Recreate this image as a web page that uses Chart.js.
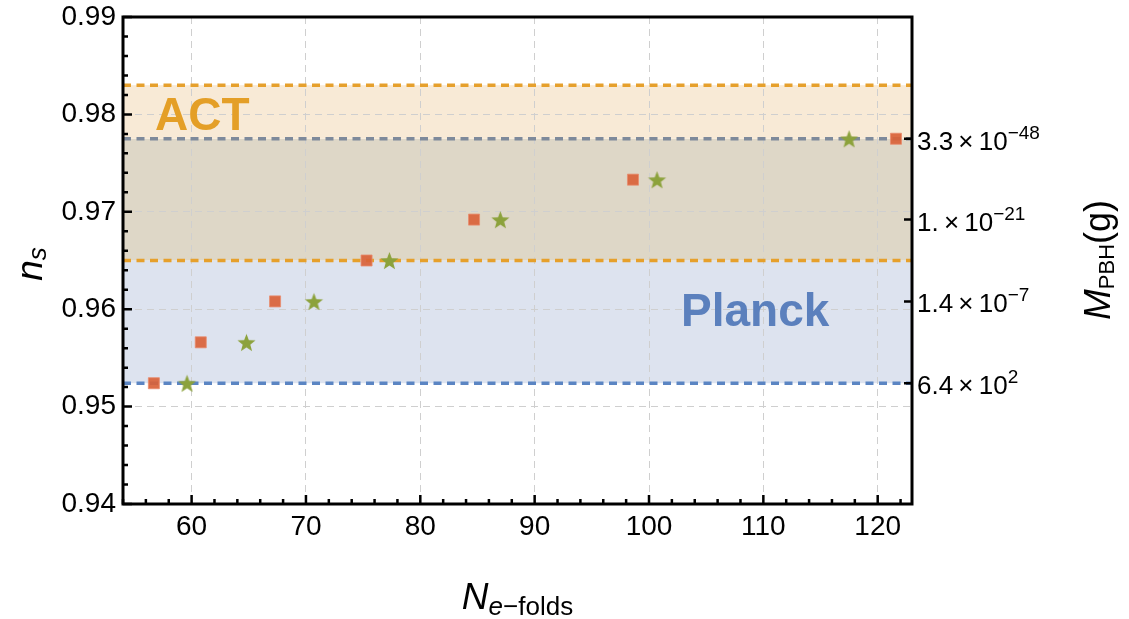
<!DOCTYPE html>
<html>
<head>
<meta charset="utf-8">
<script src="https://cdn.jsdelivr.net/npm/chart.js@4/dist/chart.umd.min.js"></script>
<style>
  html, body { margin: 0; padding: 0; background: #fff; }
  #wrap { width: 1129px; height: 619px; position: relative; }
</style>
</head>
<body>
<div id="wrap"><canvas id="chart"></canvas></div>
<script>
// data
const nefoldsSquares = [56.7, 60.8, 67.3, 75.3, 84.7, 98.6, 121.6];
const nsSquares = [0.9524, 0.9566, 0.9608, 0.9650, 0.9692, 0.9733, 0.9775];
const nefoldsStars = [59.6, 64.8, 70.7, 77.3, 87.0, 100.7, 117.5];
const nsStars = [0.9524, 0.9566, 0.9608, 0.9650, 0.9692, 0.9733, 0.9775];

const xTicks = [60, 70, 80, 90, 100, 110, 120];
const yTicks = [0.94, 0.95, 0.96, 0.97, 0.98, 0.99];
const massTickNs = [0.9524, 0.9608, 0.9692, 0.9775];
const massMantissa = ["6.4", "1.4", "1.", "3.3"];
const massExponent = ["2", "\u22127", "\u221221", "\u221248"];

const actBand = [0.965, 0.983];
const planckBand = [0.9524, 0.9775];
const actLabelPos = [56.8, 0.9784];
const planckLabelPos = [102.8, 0.9583];

const FONT = '"Liberation Sans", Arial, Helvetica, sans-serif';

// filled five point star for the second series
function makeStar(r, color) {
  const c = document.createElement("canvas");
  const s = Math.ceil(r * 2 + 2);
  c.width = s;
  c.height = s;
  const g = c.getContext("2d");
  g.fillStyle = color;
  g.beginPath();
  for (let i = 0; i < 10; i++) {
    const rad = i % 2 === 0 ? r : r * 0.42;
    const a = -Math.PI / 2 + (i * Math.PI) / 5;
    const px = s / 2 + rad * Math.cos(a);
    const py = s / 2 + 1 + rad * Math.sin(a);
    if (i === 0) g.moveTo(px, py);
    else g.lineTo(px, py);
  }
  g.closePath();
  g.fill();
  return c;
}
const starImg = makeStar(9.5, "#8ca23c");

function richText(ctx, parts, x, y) {
  let cx = x;
  parts.forEach((p) => {
    ctx.font = (p.italic ? "italic " : "") + p.size + "px " + FONT;
    ctx.fillText(p.text, cx, y + (p.dy || 0));
    cx += ctx.measureText(p.text).width;
  });
  return cx - x;
}
function richWidth(ctx, parts) {
  let w = 0;
  parts.forEach((p) => {
    ctx.font = (p.italic ? "italic " : "") + p.size + "px " + FONT;
    w += ctx.measureText(p.text).width;
  });
  return w;
}

const decor = {
  id: "decor",
  beforeDraw(chart) {
    const { ctx, chartArea: a, scales } = chart;
    const y = scales.y;
    ctx.save();
    ctx.fillStyle = "#fff";
    ctx.fillRect(0, 0, chart.width, chart.height);
    const w = a.right - a.left;
    // planck only
    ctx.fillStyle = "#dde3ef";
    let y0 = y.getPixelForValue(planckBand[0]), y1 = y.getPixelForValue(actBand[0]);
    ctx.fillRect(a.left, y1, w, y0 - y1);
    // overlap
    ctx.fillStyle = "#ded7c7";
    y0 = y.getPixelForValue(actBand[0]); y1 = y.getPixelForValue(planckBand[1]);
    ctx.fillRect(a.left, y1, w, y0 - y1);
    // act only
    ctx.fillStyle = "#f8ead6";
    y0 = y.getPixelForValue(planckBand[1]); y1 = y.getPixelForValue(actBand[1]);
    ctx.fillRect(a.left, y1, w, y0 - y1);
    ctx.restore();
  },
  beforeDatasetsDraw(chart) {
    const { ctx, chartArea: a, scales } = chart;
    const y = scales.y, x = scales.x;
    ctx.save();
    ctx.beginPath();
    ctx.rect(a.left, a.top, a.right - a.left, a.bottom - a.top);
    ctx.clip();
    ctx.lineWidth = 3.5;
    ctx.setLineDash([8, 5.5]);
    const hline = (v, col) => {
      const py = y.getPixelForValue(v);
      ctx.strokeStyle = col;
      ctx.beginPath();
      ctx.moveTo(a.left, py);
      ctx.lineTo(a.right, py);
      ctx.stroke();
    };
    hline(actBand[1], "#e6a02c");
    hline(actBand[0], "#e6a02c");
    hline(planckBand[0], "#5b85c3");
    hline(planckBand[1], "#7e8a9b");
    ctx.setLineDash([]);
    ctx.textAlign = "left";
    ctx.textBaseline = "alphabetic";
    ctx.font = "bold 46px " + FONT;
    ctx.fillStyle = "#e49f27";
    ctx.fillText("ACT", x.getPixelForValue(actLabelPos[0]), y.getPixelForValue(actLabelPos[1]));
    ctx.fillStyle = "#5b80bd";
    ctx.fillText("Planck", x.getPixelForValue(planckLabelPos[0]), y.getPixelForValue(planckLabelPos[1]));
    ctx.restore();
  },
  afterDraw(chart) {
    const { ctx, chartArea: a, scales } = chart;
    const x = scales.x, y = scales.y, y2 = scales.y2;
    ctx.save();
    // frame
    ctx.strokeStyle = "#000";
    ctx.lineWidth = 3;
    ctx.strokeRect(a.left, a.top, a.right - a.left, a.bottom - a.top);
    // inward ticks
    ctx.lineWidth = 2.5;
    ctx.beginPath();
    for (let v = 54; v <= 123; v += 2) {
      const px = x.getPixelForValue(v);
      const len = v % 10 === 0 ? 9 : 5;
      ctx.moveTo(px, a.bottom);
      ctx.lineTo(px, a.bottom - len);
    }
    for (let i = 0; i <= 25; i++) {
      const v = 0.94 + i * 0.002;
      const py = y.getPixelForValue(v);
      const len = i % 5 === 0 ? 9 : 5;
      ctx.moveTo(a.left, py);
      ctx.lineTo(a.left + len, py);
    }
    massTickNs.forEach((v) => {
      const py = y2.getPixelForValue(v);
      ctx.moveTo(a.right, py);
      ctx.lineTo(a.right - 8, py);
    });
    ctx.stroke();

    // right axis labels with superscripts
    ctx.fillStyle = "#000";
    ctx.textAlign = "left";
    ctx.textBaseline = "alphabetic";
    massTickNs.forEach((v, i) => {
      const py = y2.getPixelForValue(v) + 11;
      richText(ctx, [
        { text: massMantissa[i] + "\u2009\u00d7\u200910", size: 26 },
        { text: massExponent[i], size: 19, dy: -11 }
      ], a.right + 5, py);
    });

    // x title
    const xt = [
      { text: "N", size: 37, italic: true },
      { text: "e", size: 26, italic: true, dy: 6 },
      { text: "\u2212folds", size: 26, dy: 6 }
    ];
    const xw = richWidth(ctx, xt);
    richText(ctx, xt, (a.left + a.right) / 2 - xw / 2, 609);

    // left title
    const yt = [
      { text: "n", size: 37, italic: true },
      { text: "s", size: 26, italic: true, dy: 4 }
    ];
    ctx.save();
    ctx.translate(42, 264);
    ctx.rotate(-Math.PI / 2);
    const yw = richWidth(ctx, yt);
    richText(ctx, yt, -yw / 2, 0);
    ctx.restore();

    // right title
    const rt = [
      { text: "M", size: 37, italic: true },
      { text: "PBH", size: 22, dy: 4 },
      { text: "(g)", size: 36 }
    ];
    ctx.save();
    ctx.translate(1110, 260);
    ctx.rotate(-Math.PI / 2);
    const rw = richWidth(ctx, rt);
    richText(ctx, rt, -rw / 2, 0);
    ctx.restore();
    ctx.restore();
  }
};

const tickFont = { family: FONT, size: 28 };
const noPad = (s) => { s.paddingTop = 0; s.paddingBottom = 0; s.paddingLeft = 0; s.paddingRight = 0; };

new Chart(document.getElementById("chart"), {
  type: "scatter",
  data: {
    datasets: [
      {
        label: "squares",
        data: nefoldsSquares.map((v, i) => ({ x: v, y: nsSquares[i] })),
        pointStyle: "rect",
        pointRadius: 7.8,
        pointHoverRadius: 7.8,
        backgroundColor: "rgba(217,98,56,0.92)",
        borderColor: "rgba(232,140,110,0.8)",
        borderWidth: 1
      },
      {
        label: "stars",
        data: nefoldsStars.map((v, i) => ({ x: v, y: nsStars[i] })),
        pointStyle: starImg,
        pointRadius: 9
      }
    ]
  },
  options: {
    responsive: true,
    maintainAspectRatio: false,
    animation: false,
    layout: { padding: { top: 17, left: 0, right: 0, bottom: 0 } },
    plugins: { legend: { display: false }, tooltip: { enabled: false } },
    scales: {
      x: {
        type: "linear",
        min: 54,
        max: 123,
        afterBuildTicks: (s) => { s.ticks = xTicks.map((v) => ({ value: v })); },
        afterFit: (s) => { s.height = 115; noPad(s); },
        ticks: { font: tickFont, color: "#000", padding: 6, maxRotation: 0, callback: (v) => String(v) },
        grid: { color: "#cfcfcf", lineWidth: 1, drawTicks: false },
        border: { display: false, dash: [7, 5] }
      },
      y: {
        type: "linear",
        position: "left",
        min: 0.94,
        max: 0.99,
        afterBuildTicks: (s) => { s.ticks = yTicks.map((v) => ({ value: v })); },
        afterFit: (s) => { s.width = 123; noPad(s); },
        ticks: { font: tickFont, color: "#000", padding: 7, callback: (v) => v.toFixed(2) },
        grid: { color: "#cfcfcf", lineWidth: 1, drawTicks: false },
        border: { display: false, dash: [7, 5] }
      },
      y2: {
        type: "linear",
        position: "right",
        min: 0.94,
        max: 0.99,
        afterFit: (s) => { s.width = 217; noPad(s); },
        ticks: { display: false },
        grid: { display: false, drawTicks: false },
        border: { display: false }
      }
    }
  },
  plugins: [decor]
});
</script>
</body>
</html>
